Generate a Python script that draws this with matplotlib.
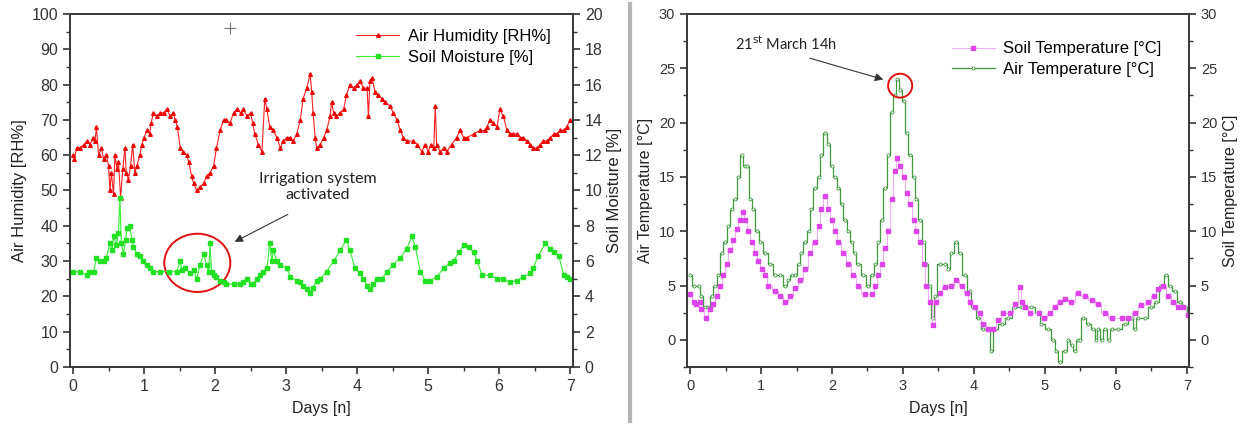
import matplotlib
matplotlib.use("Agg")
import matplotlib.pyplot as plt
from matplotlib.patches import Ellipse
from matplotlib.lines import Line2D
from matplotlib.ticker import MultipleLocator

plt.rcParams['font.family'] = ['Liberation Sans', 'DejaVu Sans']

# ---- left panel: air humidity [RH%] and soil moisture [%] ----
hum_days = [0.00, 0.02, 0.05, 0.10, 0.15, 0.20, 0.24, 0.28, 0.31, 0.33, 0.36, 0.40, 0.43, 0.47,
            0.50, 0.52, 0.54, 0.57, 0.59, 0.62, 0.64, 0.67, 0.70, 0.73, 0.75, 0.78, 0.81, 0.84,
            0.87, 0.90, 0.94, 0.97, 1.00, 1.04, 1.08, 1.10, 1.13, 1.18, 1.23, 1.28, 1.32, 1.37,
            1.41, 1.44, 1.47, 1.51, 1.55, 1.60, 1.63, 1.67, 1.70, 1.74, 1.79, 1.84, 1.88, 1.93,
            1.98, 2.02, 2.07, 2.12, 2.16, 2.21, 2.26, 2.31, 2.36, 2.40, 2.45, 2.50, 2.53, 2.56,
            2.61, 2.66, 2.70, 2.73, 2.77, 2.82, 2.87, 2.92, 2.96, 3.01, 3.06, 3.10, 3.15, 3.20,
            3.24, 3.29, 3.34, 3.36, 3.38, 3.41, 3.43, 3.48, 3.53, 3.57, 3.62, 3.64, 3.67, 3.71,
            3.76, 3.81, 3.85, 3.90, 3.95, 4.00, 4.04, 4.09, 4.14, 4.16, 4.18, 4.21, 4.25, 4.30,
            4.35, 4.39, 4.46, 4.51, 4.56, 4.61, 4.65, 4.70, 4.79, 4.85, 4.91, 4.96, 5.00, 5.04,
            5.08, 5.10, 5.12, 5.17, 5.22, 5.26, 5.33, 5.40, 5.45, 5.50, 5.55, 5.64, 5.73, 5.80,
            5.83, 5.87, 5.92, 5.97, 6.01, 6.06, 6.11, 6.15, 6.20, 6.25, 6.30, 6.34, 6.39, 6.44,
            6.48, 6.53, 6.58, 6.62, 6.67, 6.72, 6.77, 6.81, 6.86, 6.91, 6.95, 7.00]
air_humidity = [60, 59, 62, 62, 63, 64, 63, 65, 64, 68, 60, 62, 59, 60,
                57, 50, 55, 49, 60, 56, 58, 48, 56, 62, 55, 53, 57, 63,
                55, 57, 60, 63, 65, 67, 66, 69, 72, 71, 72, 72, 73, 71,
                72, 70, 68, 62, 61, 60, 58, 54, 52, 50, 51, 52, 54, 55,
                57, 62, 67, 70, 70, 69, 72, 73, 72, 73, 71, 72, 69, 66,
                63, 61, 76, 73, 68, 67, 65, 62, 64, 65, 65, 64, 66, 70,
                76, 79, 83, 78, 72, 65, 62, 63, 65, 67, 71, 75, 72, 71,
                72, 73, 77, 80, 79, 80, 81, 79, 79, 71, 81, 82, 78, 77,
                76, 75, 74, 72, 70, 67, 65, 64, 64, 63, 61, 63, 61, 63,
                62, 74, 63, 61, 62, 61, 63, 65, 67, 65, 65, 66, 67, 67,
                68, 70, 69, 68, 73, 71, 67, 66, 66, 66, 65, 65, 64, 63,
                62, 62, 63, 64, 64, 65, 66, 66, 67, 67, 68, 70]

moist_days = [0.00, 0.10, 0.19, 0.22, 0.29, 0.33, 0.38, 0.43, 0.47, 0.52, 0.55, 0.57, 0.61, 0.64,
              0.66, 0.68, 0.71, 0.74, 0.76, 0.80, 0.83, 0.85, 0.90, 0.94, 0.99, 1.04, 1.08, 1.13,
              1.23, 1.35, 1.46, 1.51, 1.53, 1.58, 1.65, 1.70, 1.74, 1.79, 1.84, 1.88, 1.91, 1.93,
              1.95, 1.98, 2.02, 2.07, 2.12, 2.16, 2.26, 2.35, 2.40, 2.45, 2.50, 2.54, 2.59, 2.63,
              2.68, 2.73, 2.77, 2.80, 2.82, 2.87, 2.92, 3.01, 3.06, 3.15, 3.20, 3.24, 3.30, 3.34,
              3.38, 3.43, 3.48, 3.57, 3.67, 3.76, 3.85, 3.90, 3.97, 4.04, 4.09, 4.14, 4.18, 4.23,
              4.28, 4.35, 4.42, 4.51, 4.61, 4.70, 4.77, 4.82, 4.89, 4.96, 5.03, 5.12, 5.22, 5.31,
              5.36, 5.43, 5.50, 5.57, 5.64, 5.69, 5.76, 5.87, 5.97, 6.06, 6.15, 6.25, 6.34, 6.44,
              6.48, 6.55, 6.65, 6.72, 6.77, 6.84, 6.91, 6.95, 7.00]
soil_moisture = [5.4, 5.4, 5.2, 5.4, 5.4, 6.2, 6.0, 6.0, 6.2, 7.0, 6.6, 7.4, 6.9, 7.6,
                 9.6, 7.0, 6.4, 7.2, 7.9, 8.0, 7.2, 6.8, 6.4, 6.3, 6.0, 5.8, 5.6, 5.4,
                 5.4, 5.4, 5.4, 6.0, 5.5, 5.6, 5.3, 5.5, 5.0, 5.8, 6.4, 5.8, 5.4, 7.0,
                 5.4, 5.2, 5.1, 4.9, 4.8, 4.7, 4.7, 4.7, 4.8, 5.0, 4.7, 4.7, 5.0, 5.2,
                 5.4, 5.6, 7.0, 6.0, 6.6, 6.0, 5.8, 5.6, 5.1, 4.9, 4.8, 4.6, 4.4, 4.2,
                 4.5, 4.9, 5.0, 5.4, 6.0, 6.6, 7.2, 6.6, 5.6, 5.3, 5.0, 4.6, 4.4, 4.7,
                 5.0, 5.0, 5.4, 5.8, 6.2, 6.7, 7.4, 6.8, 5.4, 4.9, 4.9, 5.1, 5.6, 5.9,
                 6.0, 6.5, 6.9, 6.8, 6.5, 6.0, 5.2, 5.2, 5.0, 5.0, 4.8, 4.9, 5.1, 5.3,
                 5.6, 6.3, 7.0, 6.7, 6.5, 6.3, 5.2, 5.1, 5.0]

# ---- right panel: air and soil temperature [°C] ----
air_days = [0.00, 0.05, 0.12, 0.16, 0.21, 0.26, 0.31, 0.35, 0.40, 0.45, 0.49, 0.54, 0.59, 0.63,
            0.68, 0.73, 0.77, 0.80, 0.85, 0.89, 0.94, 0.99, 1.06, 1.13, 1.20, 1.27, 1.34, 1.38,
            1.43, 1.48, 1.53, 1.57, 1.62, 1.67, 1.71, 1.76, 1.81, 1.85, 1.90, 1.95, 2.00, 2.04,
            2.09, 2.14, 2.18, 2.23, 2.28, 2.32, 2.37, 2.44, 2.51, 2.56, 2.61, 2.65, 2.70, 2.75,
            2.79, 2.84, 2.89, 2.92, 2.96, 3.01, 3.05, 3.10, 3.15, 3.19, 3.24, 3.29, 3.33, 3.38,
            3.42, 3.45, 3.52, 3.59, 3.64, 3.68, 3.75, 3.80, 3.87, 3.94, 3.99, 4.06, 4.13, 4.20,
            4.24, 4.30, 4.39, 4.48, 4.58, 4.67, 4.81, 4.91, 4.95, 5.05, 5.12, 5.16, 5.21, 5.28,
            5.33, 5.38, 5.42, 5.46, 5.49, 5.54, 5.61, 5.68, 5.72, 5.75, 5.80, 5.84, 5.90, 5.94,
            6.03, 6.13, 6.22, 6.27, 6.31, 6.41, 6.50, 6.57, 6.64, 6.71, 6.76, 6.83, 6.90, 6.97,
            7.02]
air_temp = [6, 5, 5, 4, 3, 3, 4, 5, 6, 8, 9, 10.5, 12, 13,
            15, 17, 16, 16, 13, 12, 10, 9, 8, 7, 6, 6, 5, 5.5,
            6, 6, 7, 8, 9, 10, 12, 14, 15, 17, 19, 18, 16, 15,
            14, 12.5, 11, 10, 9, 8, 7, 6, 5, 6, 7, 9, 11, 14,
            17, 21, 22.5, 24, 23, 22, 19, 17, 15, 13, 11, 9, 7, 5,
            2, 4, 7, 7, 6.5, 8, 9, 8, 6, 4.5, 3, 2, 1, 1,
            -1, 1, 1.5, 2, 3, 3, 3, 2.5, 1.5, 1, 0, -1, -2, -1,
            0, -0.5, -1, 0, 0, 2, 1.5, 1, 0, 1, 0, 1, 0, 1,
            1, 1.5, 2, 1, 2, 2, 3, 3.5, 5, 6, 5, 4.5, 3.5, 3,
            2.5]

soil_days = [0.00, 0.05, 0.09, 0.14, 0.16, 0.23, 0.28, 0.33, 0.38, 0.42, 0.47, 0.52, 0.56, 0.61,
             0.66, 0.70, 0.74, 0.78, 0.82, 0.87, 0.92, 0.96, 1.01, 1.06, 1.10, 1.20, 1.27, 1.34,
             1.41, 1.48, 1.55, 1.62, 1.69, 1.76, 1.81, 1.85, 1.90, 1.95, 2.00, 2.04, 2.09, 2.16,
             2.23, 2.30, 2.37, 2.46, 2.56, 2.61, 2.65, 2.70, 2.75, 2.79, 2.84, 2.89, 2.91, 2.96,
             3.01, 3.05, 3.10, 3.15, 3.19, 3.24, 3.29, 3.33, 3.38, 3.43, 3.47, 3.52, 3.59, 3.68,
             3.75, 3.83, 3.90, 3.94, 4.01, 4.08, 4.13, 4.20, 4.27, 4.34, 4.41, 4.51, 4.58, 4.65,
             4.68, 4.72, 4.79, 4.91, 4.98, 5.07, 5.14, 5.21, 5.28, 5.37, 5.47, 5.56, 5.66, 5.75,
             5.84, 5.94, 6.08, 6.17, 6.27, 6.36, 6.45, 6.53, 6.60, 6.67, 6.74, 6.81, 6.88, 6.95,
             7.02]
soil_temp = [4.2, 3.5, 3.3, 3.5, 2.8, 2.0, 2.8, 3.3, 4.0, 5.0, 6.0, 7.0, 8.3, 9.2,
             10.2, 11.0, 11.8, 11.0, 10.0, 9.0, 8.0, 7.3, 6.5, 6.0, 5.0, 4.5, 4.0, 3.5,
             4.0, 4.8, 5.5, 6.5, 8.0, 9.0, 10.5, 12.0, 13.2, 12.0, 11.0, 10.0, 9.0, 8.0,
             7.0, 6.0, 5.0, 4.2, 4.2, 5.0, 6.0, 7.0, 8.5, 10.0, 13.0, 15.5, 16.7, 16.0,
             15.0, 13.5, 12.5, 11.0, 10.0, 9.0, 7.0, 5.0, 3.5, 1.4, 3.5, 4.3, 4.9, 5.0,
             5.5, 5.0, 4.3, 3.5, 3.0, 2.5, 1.5, 1.0, 1.0, 1.8, 2.5, 2.5, 3.3, 4.9,
             3.5, 3.0, 2.5, 2.5, 2.0, 2.5, 3.0, 3.5, 3.8, 3.5, 4.3, 4.0, 3.7, 3.3,
             2.5, 2.0, 2.0, 2.0, 2.5, 3.2, 3.5, 4.0, 4.7, 5.0, 4.0, 3.5, 3.0, 3.0,
             2.3]

tick_color = "#333333"


def style_axis(ax, size):
    for s in ax.spines.values():
        s.set_color("#3a3a3a")
        s.set_linewidth(1.3)
    ax.tick_params(which="both", direction="out", colors=tick_color, labelsize=size)
    ax.tick_params(which="major", length=5, width=1.2)
    ax.tick_params(which="minor", length=3, width=1.0)


fig = plt.figure(figsize=(12.44, 4.25), dpi=100)

# left panel
ax1 = fig.add_axes([0.0563, 0.1365, 0.4043, 0.8306])
ax1b = ax1.twinx()
l1, = ax1.plot(hum_days, air_humidity, color="#ff2020", lw=0.8, marker="^", ms=2.6,
               mec="#ee0000", mfc="#ee0000", label="Air Humidity [RH%]")
l2, = ax1b.plot(moist_days, soil_moisture, color="#33ee33", lw=0.8, marker="s", ms=2.2,
                mec="#22e022", mfc="#22e022", label="Soil Moisture [%]")
ax1.plot([2.21], [96], marker="+", ms=9, color="#777777", mew=0.8)
ax1.set_xlim(-0.042, 7.04)
ax1.set_ylim(0, 100)
ax1b.set_ylim(0, 20)
ax1.xaxis.set_major_locator(MultipleLocator(1))
ax1.xaxis.set_minor_locator(MultipleLocator(0.5))
ax1.yaxis.set_major_locator(MultipleLocator(10))
ax1.yaxis.set_minor_locator(MultipleLocator(5))
ax1b.yaxis.set_major_locator(MultipleLocator(2))
ax1b.yaxis.set_minor_locator(MultipleLocator(1))
ax1.set_xlabel("Days [n]", fontsize=11.5, color="#222222", labelpad=5)
ax1.set_ylabel("Air Humidity [RH%]", fontsize=12, color="#222222", labelpad=3)
ax1b.set_ylabel("Soil Moisture [%]", fontsize=12, color="#222222", labelpad=3)
for a in (ax1, ax1b):
    style_axis(a, 11.5)
ax1.legend([l1, l2], [l1.get_label(), l2.get_label()], loc="upper right",
           bbox_to_anchor=(0.985, 1.0), frameon=False, fontsize=12, handlelength=2.6,
           labelspacing=0.35, handletextpad=0.5)
ax1b.add_patch(Ellipse((1.75, 5.9), 0.93, 3.3, fill=False, ec="#e01010", lw=1.4))
ax1.annotate("", xy=(2.24, 35.1), xytext=(3.06, 43.6),
             arrowprops=dict(arrowstyle="-|>", color="#333333", lw=0.8, mutation_scale=12))
ax1.text(3.45, 51, "Irrigation system\nactivated", ha="center", va="center",
         fontsize=11.5, family=["Lato", "DejaVu Sans"], color="#222222", linespacing=1.25)

# right panel
ax2 = fig.add_axes([0.5523, 0.1365, 0.4035, 0.8306])
ax2b = ax2.twinx()
l3, = ax2.plot(air_days, air_temp, color="#3f9a3f", lw=0.9, marker="o", ms=2.2,
               mfc="white", mec="#3f9a3f", mew=0.6, drawstyle="steps-mid",
               label="Air Temperature [°C]")
l4, = ax2b.plot(soil_days, soil_temp, color="#f0b0f5", lw=0.8, marker="s", ms=2.2,
                mec="#dd44ee", mfc="#dd44ee", drawstyle="steps-mid",
                label="Soil Temperature [°C]")
for a in (ax2, ax2b):
    a.set_ylim(-2.5, 30)
    a.yaxis.set_major_locator(MultipleLocator(5))
    a.yaxis.set_minor_locator(MultipleLocator(2.5))
    style_axis(a, 10.5)
ax2.set_xlim(-0.042, 7.03)
ax2.xaxis.set_major_locator(MultipleLocator(1))
ax2.xaxis.set_minor_locator(MultipleLocator(0.5))
ax2.set_xlabel("Days [n]", fontsize=11.5, color="#222222", labelpad=6)
ax2.set_ylabel("Air Temperature [°C]", fontsize=11.5, color="#222222", labelpad=4)
ax2b.set_ylabel("Soil Temperature [°C]", fontsize=11.5, color="#222222", labelpad=4)
ax2.legend([l4, l3], [l4.get_label(), l3.get_label()], loc="upper right",
           bbox_to_anchor=(0.975, 0.965), frameon=False, fontsize=12, handlelength=2.6,
           labelspacing=0.35, handletextpad=0.5)
ax2b.add_patch(Ellipse((2.96, 23.4), 0.34, 2.2, fill=False, ec="#e01010", lw=1.4))
ax2b.annotate("", xy=(2.76, 23.9), xytext=(1.65, 26.0),
              arrowprops=dict(arrowstyle="-|>", color="#333333", lw=0.8, mutation_scale=12))
ax2b.text(1.35, 27.3, "21$^{\\mathrm{st}}$ March 14h", ha="center", va="center",
          fontsize=10.5, family=["Lato", "DejaVu Sans"], color="#222222")

# grey divider between the two screenshots
fig.add_artist(Line2D([630 / 1244, 630 / 1244], [0.01, 0.99], color="#b5b5b5", lw=3))

fig.savefig("out.png", dpi=100)
